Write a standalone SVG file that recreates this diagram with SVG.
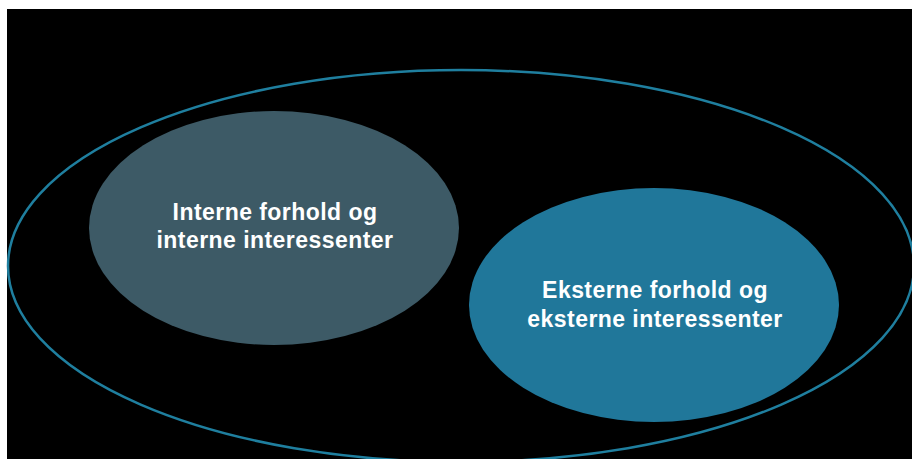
<svg xmlns="http://www.w3.org/2000/svg" width="912" height="459" viewBox="0 0 912 459">
<style>
.lbl{font-family:"Liberation Sans",Arial,sans-serif;font-weight:bold;font-size:23px;fill:#ffffff;text-anchor:middle;letter-spacing:0.45px}
</style>
<rect x="0" y="0" width="912" height="459" fill="#ffffff"/>
<rect x="7" y="9" width="905" height="450" fill="#000000"/>
<g id="outer">
<ellipse cx="461" cy="266" rx="453" ry="196" fill="none" stroke="#1f7f9f" stroke-width="2.5"/>
</g>
<g id="interne">
<ellipse cx="274" cy="228" rx="185" ry="117" fill="#3d5a66"/>
<text class="lbl" x="275" y="220">Interne forhold og</text>
<text class="lbl" x="275" y="248">interne interessenter</text>
</g>
<g id="eksterne">
<ellipse cx="654" cy="305" rx="185" ry="117" fill="#20779a"/>
<text class="lbl" x="655" y="298">Eksterne forhold og</text>
<text class="lbl" x="655" y="327">eksterne interessenter</text>
</g>
</svg>
